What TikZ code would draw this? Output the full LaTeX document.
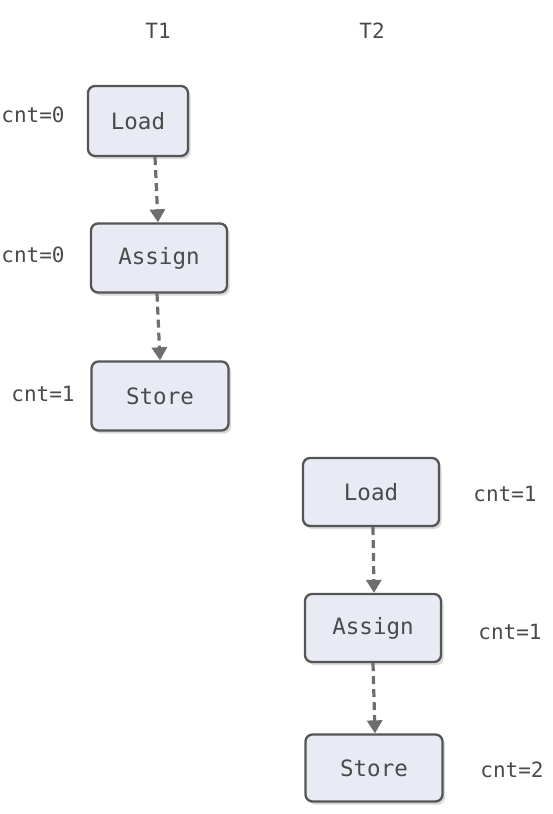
\documentclass[tikz,border=0pt]{standalone}
\usepackage{fontspec}
\setmonofont{DejaVu Sans Mono}
\usetikzlibrary{shadows,arrows.meta}
\definecolor{boxfill}{HTML}{E8EBF4}
\definecolor{boxline}{HTML}{555555}
\definecolor{txt}{HTML}{4A4A4A}
\definecolor{arr}{HTML}{6E6E6E}
\tikzset{
  opbox/.style={draw=boxline, line width=2.3pt, fill=boxfill, rounded corners=7pt,
    drop shadow={opacity=0.3, shadow xshift=2.5pt, shadow yshift=-3pt},
    font=\ttfamily\fontsize{22.5}{27}\selectfont, text=txt, inner sep=0pt},
  lbl/.style={font=\ttfamily\fontsize{21}{25}\selectfont, text=txt, inner sep=0pt},
  flow/.style={draw=arr, line width=3.2pt, dash pattern=on 8pt off 5pt,
    -{Triangle[length=13pt,width=15pt]}, shorten >=0pt}
}
\begin{document}
\begin{tikzpicture}[x=1pt,y=-1pt]
\useasboundingbox (0,0) rectangle (553,814);
% headers
\node[lbl] (t1) at (158,31) {T1};
\node[lbl] (t2) at (372,31) {T2};
% T1 column
\node[opbox, minimum width=100pt, minimum height=70pt] (l1) at (138,121) {Load};
\node[opbox, minimum width=136pt, minimum height=69pt] (a1) at (159,258) {Assign};
\node[opbox, minimum width=137pt, minimum height=69pt] (s1) at (160,396) {Store};
% T2 column
\node[opbox, minimum width=136pt, minimum height=68pt] (l2) at (371,492) {Load};
\node[opbox, minimum width=136pt, minimum height=68pt] (a2) at (373,628) {Assign};
\node[opbox, minimum width=137pt, minimum height=67pt] (s2) at (374,768) {Store};
% labels
\node[lbl] (c1) at (33,115) {cnt=0};
\node[lbl] (c2) at (33,255) {cnt=0};
\node[lbl] (c3) at (43,394) {cnt=1};
\node[lbl] (c4) at (505,494) {cnt=1};
\node[lbl] (c5) at (510,632) {cnt=1};
\node[lbl] (c6) at (512,770) {cnt=2};
% connectors
\draw[flow] (l1.south -| 155,0) -- (a1.north -| 158,0);
\draw[flow] (a1.south -| 157,0) -- (s1.north -| 160,0);
\draw[flow] (l2.south -| 373,0) -- (a2.north -| 374,0);
\draw[flow] (a2.south -| 373,0) -- (s2.north -| 375,0);
\end{tikzpicture}
\end{document}
